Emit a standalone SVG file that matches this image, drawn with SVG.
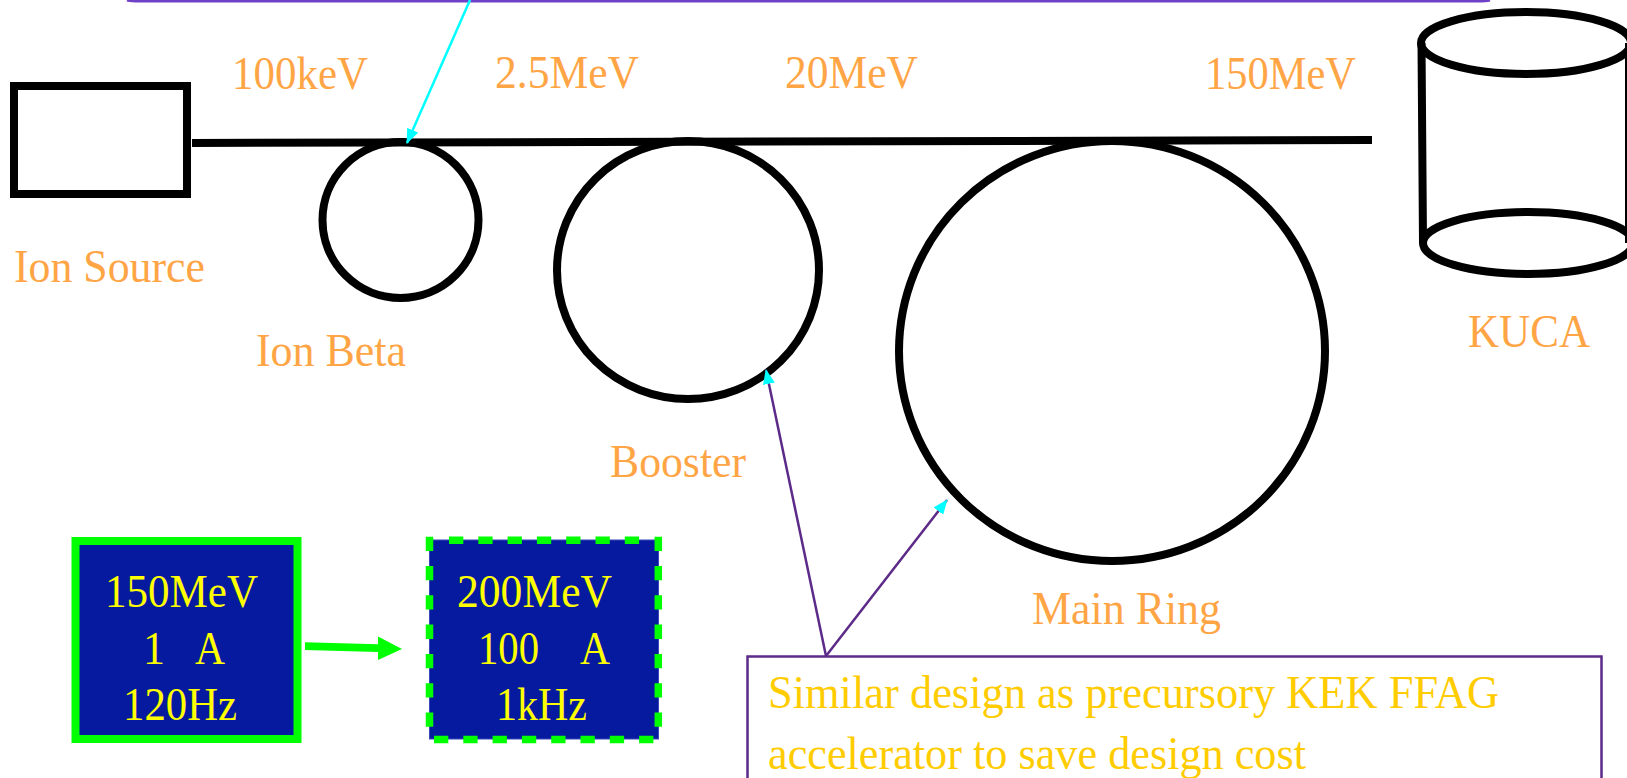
<svg xmlns="http://www.w3.org/2000/svg" width="1627" height="778" viewBox="0 0 1627 778">
<style>
text{font-family:"Liberation Serif","Times New Roman",serif;font-size:46px;white-space:pre}
.o{fill:#ffa545}
.y{fill:#ffff00}
.g{fill:#ffcc00}
.k{fill:none;stroke:#000;stroke-width:8}
.p{fill:none;stroke:#5c2a88;stroke-width:2.500}
.d{fill:none;stroke:#00ff00;stroke-width:7.500;stroke-dasharray:14.300 15}
</style>
<defs>
<marker id="cy" markerUnits="userSpaceOnUse" markerWidth="15" markerHeight="12" refX="14" refY="6" orient="auto"><path d="M0 0L15 6L0 12Z" fill="#00ffff"/></marker>
</defs>
<rect width="1627" height="778" fill="#fff"/>
<g id="top-callout"><path d="M127 0Q131 1 140 1H1478Q1486 1 1490 0" fill="none" stroke="#7040c8" stroke-width="3"/></g>
<g id="ion-source"><rect class="k" x="14" y="86" width="173" height="108"/><text class="o" x="14" y="282" textLength="191" lengthAdjust="spacingAndGlyphs">Ion Source</text></g>
<g id="ion-beta"><circle class="k" cx="400.500" cy="220" r="78"/><text class="o" x="256" y="366" textLength="150" lengthAdjust="spacingAndGlyphs">Ion Beta</text></g>
<g id="booster"><ellipse class="k" cx="688" cy="270" rx="131" ry="129"/><text class="o" x="610" y="477" textLength="136" lengthAdjust="spacingAndGlyphs">Booster</text></g>
<g id="main-ring"><ellipse class="k" cx="1112" cy="351" rx="213" ry="210"/><text class="o" x="1032" y="624" textLength="189" lengthAdjust="spacingAndGlyphs">Main Ring</text></g>
<g id="kuca"><ellipse class="k" cx="1526" cy="43" rx="105" ry="31"/><ellipse class="k" cx="1528" cy="243" rx="105" ry="31"/><path class="k" d="M1421.500 43L1423 243M1629 43V243"/><text class="o" x="1468" y="347" textLength="122" lengthAdjust="spacingAndGlyphs">KUCA</text></g>
<g id="connectors">
<path class="k" d="M192 143L1372 140"/>
<path d="M470 0L407 143" fill="none" stroke="#00ffff" stroke-width="2.500" marker-end="url(#cy)"/>
<path class="p" d="M826 656L766 370" marker-end="url(#cy)"/>
<path class="p" d="M826 656L947 500" marker-end="url(#cy)"/>
<path d="M305 642.300L378 644.200V636.500L402 649L378 660V652L305 650Z" fill="#00ff00"/>
</g>
<g id="energies">
<text class="o" x="232" y="89" textLength="136" lengthAdjust="spacingAndGlyphs">100keV</text>
<text class="o" x="495" y="88" textLength="144" lengthAdjust="spacingAndGlyphs">2.5MeV</text>
<text class="o" x="785" y="88" textLength="133" lengthAdjust="spacingAndGlyphs">20MeV</text>
<text class="o" x="1205" y="89" textLength="151" lengthAdjust="spacingAndGlyphs">150MeV</text>
</g>
<g id="spec-current"><rect x="75.500" y="541" width="222" height="198" fill="#061aa0" stroke="#00ff00" stroke-width="8"/>
<text class="y" x="105" y="607" textLength="153" lengthAdjust="spacingAndGlyphs">150MeV</text>
<text class="y" x="143" y="664" textLength="22" lengthAdjust="spacingAndGlyphs">1</text><text class="y" x="195" y="664" textLength="30" lengthAdjust="spacingAndGlyphs">A</text>
<text class="y" x="123" y="720" textLength="114" lengthAdjust="spacingAndGlyphs">120Hz</text></g>
<g id="spec-target"><rect x="429.500" y="540" width="229" height="199" fill="#061aa0" stroke="#3a48b8" stroke-width="1"/>
<path class="d" d="M449 540.300H642"/><path class="d" d="M434 739.500H655"/><path class="d" d="M429.500 536.700V730"/><path class="d" d="M658.300 536.700V730"/>
<text class="y" x="457" y="607" textLength="155" lengthAdjust="spacingAndGlyphs">200MeV</text>
<text class="y" x="478" y="664" textLength="61" lengthAdjust="spacingAndGlyphs">100</text><text class="y" x="580" y="664" textLength="30" lengthAdjust="spacingAndGlyphs">A</text>
<text class="y" x="496" y="720" textLength="91" lengthAdjust="spacingAndGlyphs">1kHz</text></g>
<g id="note"><rect class="p" x="747.500" y="656.500" width="854" height="140"/>
<text class="g" x="768" y="708" textLength="731" lengthAdjust="spacingAndGlyphs">Similar design as precursory KEK FFAG</text>
<text class="g" x="768" y="769" textLength="538" lengthAdjust="spacingAndGlyphs">accelerator to save design cost</text></g>
</svg>
